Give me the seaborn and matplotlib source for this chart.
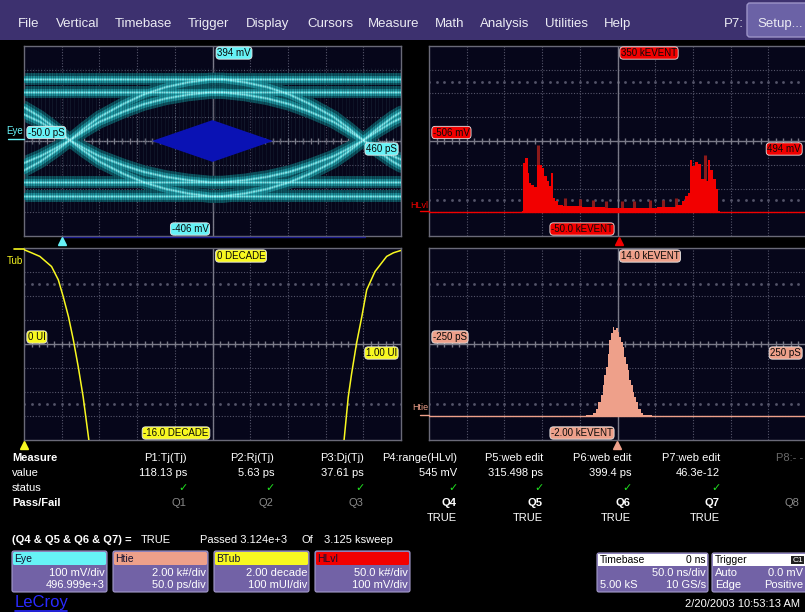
import numpy as np
import matplotlib
matplotlib.use("Agg")
import matplotlib.pyplot as plt
from matplotlib.patches import Rectangle, FancyBboxPatch, Polygon
import seaborn as sns

W, H = 805, 612

# ---------------- data ----------------
# eye diagram: time (ps) and trace levels (mV)
eye_t = [-50, -28, -8, 12, 32, 52, 85, 112, 142, 172, 202, 219, 249, 279, 309,
         336, 369, 389, 409, 429, 449, 460]
eye_rise_outer = [-130, -93, -50, -3, 48, 95, 151, 190, 221, 241, 254, 254, 241,
                  221, 190, 151, 95, 48, -3, -50, -93, -112]
eye_rise_inner = [-99, -70, -38, -3, 37, 74, 118, 149, 173, 189, 199, 199, 189,
                  173, 149, 118, 74, 37, -3, -38, -70, -84]
eye_fall_outer = [136, 95, 48, -3, -50, -93, -145, -180, -208, -227, -239, -239,
                  -227, -208, -180, -145, -93, -50, -3, 48, 95, 115]
eye_fall_inner = [106, 74, 37, -3, -38, -70, -109, -136, -157, -171, -180, -180,
                  -171, -157, -136, -109, -70, -38, -3, 37, 74, 90]
eye_rails = [254, 199, -180, -239]
mask_t = [123, 205, 287, 205]
mask_mv = [-6, 82, -6, -94]

# HLvl histogram: bin edges (mV) and counts (kEVENT)
hlvl_edges = [-276, -260, -257, -251, -244, -241, -235, -227, -219, -212, -207,
              -200, -194, -188, -182, -177, -172, -165, -150, -100, -40, 100,
              150, 164, 173, 180, 187, 192, 200, 207, 215, 222, 229, 235, 240,
              248, 254, 260, 266]
hlvl_counts = [1.5, 2, 103, 115, 83, 62, 58, 53, 100, 100, 94, 76, 65, 55, 83,
               30, 23, 15, 13, 12, 10, 12, 15, 23, 34, 41, 109, 97, 106, 101,
               69, 69, 65, 109, 90, 69, 48, 3]
hlvl_spike_mv = [-216, -145, -105, -71, -37, 5, 39, 80, 114, 149, 225]
hlvl_spike_k = [141, 30, 28, 25, 23, 23, 23, 25, 25, 30, 120]

# Htie histogram: bin edges (ps) and counts (kEVENT)
htie_edges = [-41.8, -32, -28.5, -25.4, -22.3, -19.7, -17.5, -15.3, -13, -10.8,
              -8.6, -6.4, -4.2, -2, 0.2, 2.4, 4.6, 6.8, 9, 11.3, 13.5, 15.7,
              17.9, 20.1, 22.3, 24.5, 27.6, 31.1, 34.2, 45.3]
htie_counts = [0.09, 0.23, 0.6, 1.15, 1.71, 2.55, 3.39, 4.09, 5.2, 6.32, 6.88,
               7.44, 7.16, 7.3, 7.02, 6.6, 6.18, 5.76, 4.92, 4.37, 3.81, 2.97,
               2.55, 2.0, 1.57, 1.15, 0.6, 0.23, 0.09]

# bathtub curve: UI vs decade
btub_left_ui = [0.0, 0.02, 0.042, 0.073, 0.091, 0.104, 0.118, 0.131, 0.144, 0.157, 0.172]
btub_left_dec = [-0.14, -0.4, -0.70, -1.54, -2.65, -4.05, -5.73, -7.68, -9.92, -12.43, -16.0]
btub_right_ui = [0.849, 0.860, 0.869, 0.882, 0.896, 0.909, 0.931, 0.962, 0.98, 1.0]
btub_right_dec = [-16.0, -12.43, -10.47, -7.96, -5.73, -3.49, -1.96, -0.70, -0.4, -0.2]

# measurement table
meas_names = ["P1:Tj(Tj)", "P2:Rj(Tj)", "P3:Dj(Tj)", "P4:range(HLvl)",
              "P5:web edit", "P6:web edit", "P7:web edit"]
meas_values = ["118.13 ps", "5.63 ps", "37.61 ps", "545 mV", "315.498 ps",
               "399.4 ps", "46.3e-12"]
qual_names = ["Q1", "Q2", "Q3", "Q4", "Q5", "Q6", "Q7", "Q8"]
qual_active = [False, False, False, True, True, True, True, False]
menu_items = ["File", "Vertical", "Timebase", "Trigger", "Display", "Cursors",
              "Measure", "Math", "Analysis", "Utilities", "Help"]

# ---------------- style ----------------
sns.set_theme(style="dark")
plt.rcParams['font.family'] = ['Liberation Sans Narrow', 'Liberation Sans', 'DejaVu Sans']

PANEL_BG = "#06061a"
GRID = "#55556a"
AXIS = "#7a7a88"
CYAN = "#66f2f6"
RED = "#f20000"
SALMON = "#eea08a"
YELLOW = "#f8f820"
BOX = "#7262a6"
MENU = "#3d316f"

fig = plt.figure(figsize=(W / 100, H / 100), dpi=100, facecolor="black")


def px_axes(x0, y0, x1, y1, z=1):
    return fig.add_axes([x0 / W, 1 - y1 / H, (x1 - x0) / W, (y1 - y0) / H], zorder=z)


def scope_grid(ax, xlim, ylim):
    ax.set_facecolor(PANEL_BG)
    xs = np.linspace(xlim[0], xlim[1], 11)
    ys = np.linspace(ylim[0], ylim[1], 9)
    for x in xs[1:-1]:
        ax.axvline(x, color=GRID, lw=0.8, ls=(0, (1, 1.5)), zorder=0)
    for y in ys[1:-1]:
        ax.axhline(y, color=GRID, lw=0.8, ls=(0, (1, 1.5)), zorder=0)
    ax.axvline(xs[5], color=AXIS, lw=1, zorder=0.5)
    ax.axhline(ys[4], color=AXIS, lw=1, zorder=0.5)
    tx = np.linspace(xlim[0], xlim[1], 51)
    ax.plot(tx, [ys[4]] * len(tx), ls="none", marker="|", ms=5, mew=1,
            color=AXIS, zorder=0.5)
    dy = ys[1] - ys[0]
    for yy in (ys[0] + 1.5 * dy, ys[-1] - 1.5 * dy):
        ax.plot(tx, [yy] * len(tx), ls="none", marker="s", ms=0.9,
                color=GRID, zorder=0)
    ax.set_xlim(xlim)
    ax.set_ylim(ylim)
    ax.set_xticks([])
    ax.set_yticks([])
    ax.set_xlabel("")
    ax.set_ylabel("")
    for s in ax.spines.values():
        s.set_visible(True)
        s.set_color("#6a6a78")
        s.set_linewidth(1)


# ---------------- eye panel ----------------
ax_eye = px_axes(24, 46, 401, 236)
eye_xlim, eye_ylim = (-50, 460), (-406, 394)
traces = [eye_rise_outer, eye_rise_inner, eye_fall_outer, eye_fall_inner]
rails = [[lvl, lvl] for lvl in eye_rails]
rail_x = list(eye_xlim)
layers = [("#0b5560", 9.5, 0.95, 2), ("#1d96a0", 5.5, 0.85, 3),
          ("#5fe6ea", 2.0, 0.7, 4), ("#c8ffff", 0.6, 0.6, 5)]
for col, lw, a, z in layers:
    for tr in traces:
        sns.lineplot(x=eye_t, y=tr, ax=ax_eye, color=col, lw=lw, alpha=a, zorder=z)
    for r in rails:
        sns.lineplot(x=rail_x, y=r, ax=ax_eye, color=col, lw=lw * 0.9, alpha=a, zorder=z)
# persistence streaks across the bands
ax_eye.vlines(np.arange(-48, 460, 3.1), -300, 300, color=PANEL_BG, lw=0.5, alpha=0.3, zorder=5.5)
ax_eye.vlines(np.arange(-46, 460, 4.9), -300, 300, color="#9ffcfc", lw=0.4, alpha=0.12, zorder=5.4)
ax_eye.add_patch(Polygon(list(zip(mask_t, mask_mv)), closed=True, fc="#0a12b4", ec="none", zorder=6))
scope_grid(ax_eye, eye_xlim, eye_ylim)

# ---------------- HLvl histogram ----------------
ax_hl = px_axes(429, 46, 806, 236)
hl_centers = [(a + b) / 2 for a, b in zip(hlvl_edges[:-1], hlvl_edges[1:])]
ax_hl.vlines(hlvl_spike_mv, 0, hlvl_spike_k, color="#8c1a1a", lw=2.2, zorder=2)
sns.histplot(x=hl_centers, weights=hlvl_counts, bins=hlvl_edges, ax=ax_hl,
             element="step", fill=True, color=RED, alpha=1, linewidth=0, zorder=3)
ax_hl.axhline(0, color=RED, lw=1, zorder=3)
scope_grid(ax_hl, (-506, 494), (-50, 350))

# ---------------- BTub bathtub ----------------
ax_bt = px_axes(24, 248, 401, 440)
sns.lineplot(x=btub_left_ui, y=btub_left_dec, ax=ax_bt, color=YELLOW, lw=1.1, zorder=3)
sns.lineplot(x=btub_right_ui, y=btub_right_dec, ax=ax_bt, color=YELLOW, lw=1.1, zorder=3)
scope_grid(ax_bt, (0, 1), (-16, 0))

# ---------------- Htie histogram ----------------
ax_ht = px_axes(429, 248, 806, 440)
ht_centers = [(a + b) / 2 for a, b in zip(htie_edges[:-1], htie_edges[1:])]
sns.histplot(x=ht_centers, weights=htie_counts, bins=htie_edges, ax=ax_ht,
             element="step", fill=True, color=SALMON, alpha=1, linewidth=0, zorder=3)
ax_ht.axhline(0, color=SALMON, lw=1, zorder=3)
scope_grid(ax_ht, (-250, 250), (-2, 14))

# ---------------- overlay (pixel coordinates) ----------------
ov = fig.add_axes([0, 0, 1, 1], zorder=10)
ov.set_xlim(0, W)
ov.set_ylim(H, 0)
ov.axis("off")
ov.patch.set_alpha(0)

# menu bar
ov.add_patch(Rectangle((0, 0), W, 40, fc=MENU, ec="none"))
mx = [18, 56, 115, 188, 246, 307, 368, 435, 480, 545, 604]
for x, t in zip(mx, menu_items):
    ov.text(x, 24, t, color="#ececf4", fontsize=9.5, va="center", ha="left")
ov.text(724, 24, "P7:", color="#ececf4", fontsize=9.5, va="center", ha="left")
ov.add_patch(FancyBboxPatch((747, 3), 62, 34, boxstyle="round,pad=0,rounding_size=3",
                            fc="#6b62a6", ec="#9c94c8", lw=1))
ov.text(757, 24, "Setup...", color="#ececf4", fontsize=9.5, va="center", ha="left")


def tag(x, y, s, fc, ha="center"):
    ov.text(x, y, s, ha=ha, va="center", fontsize=7, color="#0a0a0a",
            bbox=dict(boxstyle="round,pad=0.12,rounding_size=0.35", fc=fc,
                      ec="#e6e6e6", lw=0.6))


tag(234, 53, "394 mV", CYAN)
tag(28, 132.5, "-50.0 pS", CYAN, "left")
tag(397, 149, "460 pS", CYAN, "right")
tag(190, 229, "-406 mV", CYAN)
tag(649, 53, "350 kEVENT", RED)
tag(433, 132.5, "-506 mV", RED, "left")
tag(801, 149, "494 mV", RED, "right")
tag(582, 229, "-50.0 kEVENT", RED)
tag(241, 256, "0 DECADE", YELLOW)
tag(28, 337, "0 UI", YELLOW, "left")
tag(397, 353, "1.00 UI", YELLOW, "right")
tag(176, 433, "-16.0 DECADE", YELLOW)
tag(650, 256, "14.0 kEVENT", SALMON)
tag(433, 337, "-250 pS", SALMON, "left")
tag(801, 353, "250 pS", SALMON, "right")
tag(582, 433, "-2.00 kEVENT", SALMON)

# trace labels left of panels
ov.text(6, 131, "Eye", color=CYAN, fontsize=7, va="center", ha="left")
ov.plot([8, 24], [139, 139], color=CYAN, lw=1)
ov.text(23, 261, "Tub", color=YELLOW, fontsize=7, va="center", ha="right")
ov.plot([14, 24], [248.5, 248.5], color=YELLOW, lw=1.2)
ov.text(428, 205, "HLvl", color=RED, fontsize=6.5, va="center", ha="right")
ov.plot([420, 429], [211, 211], color=RED, lw=1)
ov.text(428, 408, "Htie", color=SALMON, fontsize=6.5, va="center", ha="right")
ov.plot([420, 429], [415, 415], color=SALMON, lw=1)
ov.plot([62, 365], [236.5, 236.5], color="#1a1a8a", lw=1)

# position markers
ov.plot([62], [241], marker="^", ms=6, color=CYAN, ls="none")
ov.plot([619], [241], marker="^", ms=6, color=RED, ls="none")
ov.plot([24], [445], marker="^", ms=6, color=YELLOW, ls="none")
ov.plot([617], [445], marker="^", ms=6, color=SALMON, ls="none")

# measurement table
col_r = [187, 274, 364, 457, 543, 631, 720]
ov.text(12, 458, "Measure", color="white", fontsize=8, fontweight="bold", va="center")
ov.text(12, 473, "value", color="white", fontsize=8, va="center")
ov.text(12, 488, "status", color="white", fontsize=8, va="center")
ov.text(12, 503, "Pass/Fail", color="white", fontsize=8, fontweight="bold", va="center")
for x, n, v in zip(col_r, meas_names, meas_values):
    ov.text(x, 458, n, color="white", fontsize=8, va="center", ha="right")
    ov.text(x, 473, v, color="white", fontsize=8, va="center", ha="right")
    ov.text(x - 4, 488, "\u2713", color="#20e020", fontsize=8, va="center",
            ha="center", family="DejaVu Sans")
ov.text(803, 458, "P8:- -", color="#6a6a6a", fontsize=8, va="center", ha="right")
q_x = col_r + [800]
for x, q, act in zip(q_x, qual_names, qual_active):
    ov.text(x - 8, 503, q, color="white" if act else "#8a8a8a", fontsize=8,
            fontweight="bold" if act else "normal", va="center", ha="center")
    if act:
        ov.text(x, 518, "TRUE", color="white", fontsize=8, va="center", ha="right")
ov.text(12, 540, "(Q4 & Q5 & Q6 & Q7) =", color="white", fontsize=8,
        fontweight="bold", va="center")
ov.text(141, 540, "TRUE", color="white", fontsize=8, va="center")
ov.text(200, 540, "Passed 3.124e+3", color="white", fontsize=8, va="center")
ov.text(301, 540, "Of", color="white", fontsize=8, va="center")
ov.text(324, 540, "3.125 ksweep", color="white", fontsize=8, va="center")

# trace descriptor boxes
boxes = [
    (12, "Eye", CYAN, "100 mV/div", "496.999e+3"),
    (113, "Htie", SALMON, "2.00 k#/div", "50.0 ps/div"),
    (214, "BTub", YELLOW, "2.00 decade", "100 mUI/div"),
    (315, "HLvl", RED, "50.0 k#/div", "100 mV/div"),
]
for x0, name, col, l1, l2 in boxes:
    ov.add_patch(FancyBboxPatch((x0, 551), 95, 41, boxstyle="round,pad=0,rounding_size=2",
                                fc=BOX, ec="#a49ccc", lw=0.8))
    ov.add_patch(FancyBboxPatch((x0 + 1, 552), 93, 13, boxstyle="round,pad=0,rounding_size=1.5",
                                fc=col, ec="none"))
    ov.text(x0 + 2, 558.5, name, color="#101030", fontsize=7.5, va="center")
    ov.text(x0 + 93, 573, l1, color="white", fontsize=8, va="center", ha="right")
    ov.text(x0 + 93, 585, l2, color="white", fontsize=8, va="center", ha="right")

# timebase / trigger boxes
ov.add_patch(FancyBboxPatch((597, 553), 111, 39, boxstyle="round,pad=0,rounding_size=2",
                            fc=BOX, ec="#a49ccc", lw=0.8))
ov.add_patch(Rectangle((598, 554), 109, 12, fc="white", ec="none"))
ov.text(600, 560, "Timebase", color="black", fontsize=7.5, va="center")
ov.text(706, 560, "0 ns", color="black", fontsize=7.5, va="center", ha="right")
ov.text(706, 573, "50.0 ns/div", color="white", fontsize=8, va="center", ha="right")
ov.text(600, 585, "5.00 kS", color="white", fontsize=8, va="center")
ov.text(706, 585, "10 GS/s", color="white", fontsize=8, va="center", ha="right")
ov.add_patch(FancyBboxPatch((712, 553), 110, 39, boxstyle="round,pad=0,rounding_size=2",
                            fc=BOX, ec="#a49ccc", lw=0.8))
ov.add_patch(Rectangle((713, 554), 108, 12, fc="white", ec="none"))
ov.text(715, 560, "Trigger", color="black", fontsize=7.5, va="center")
ov.text(803, 560, "C1", color="white", fontsize=6, va="center", ha="right",
        bbox=dict(boxstyle="square,pad=0.1", fc="#202020", ec="none"))
ov.text(715, 573, "Auto", color="white", fontsize=8, va="center")
ov.text(803, 573, "0.0 mV", color="white", fontsize=8, va="center", ha="right")
ov.text(715, 585, "Edge", color="white", fontsize=8, va="center")
ov.text(803, 585, "Positive", color="white", fontsize=8, va="center", ha="right")

ov.text(800, 604, "2/20/2003 10:53:13 AM", color="white", fontsize=8, va="center", ha="right")
ov.text(15, 603, "LeCroy", color="#2a2aff", fontsize=12, va="center", ha="left")
ov.plot([15, 67], [611, 611], color="#2a2aff", lw=1.2)

fig.savefig("out.png", dpi=100, facecolor="black")
